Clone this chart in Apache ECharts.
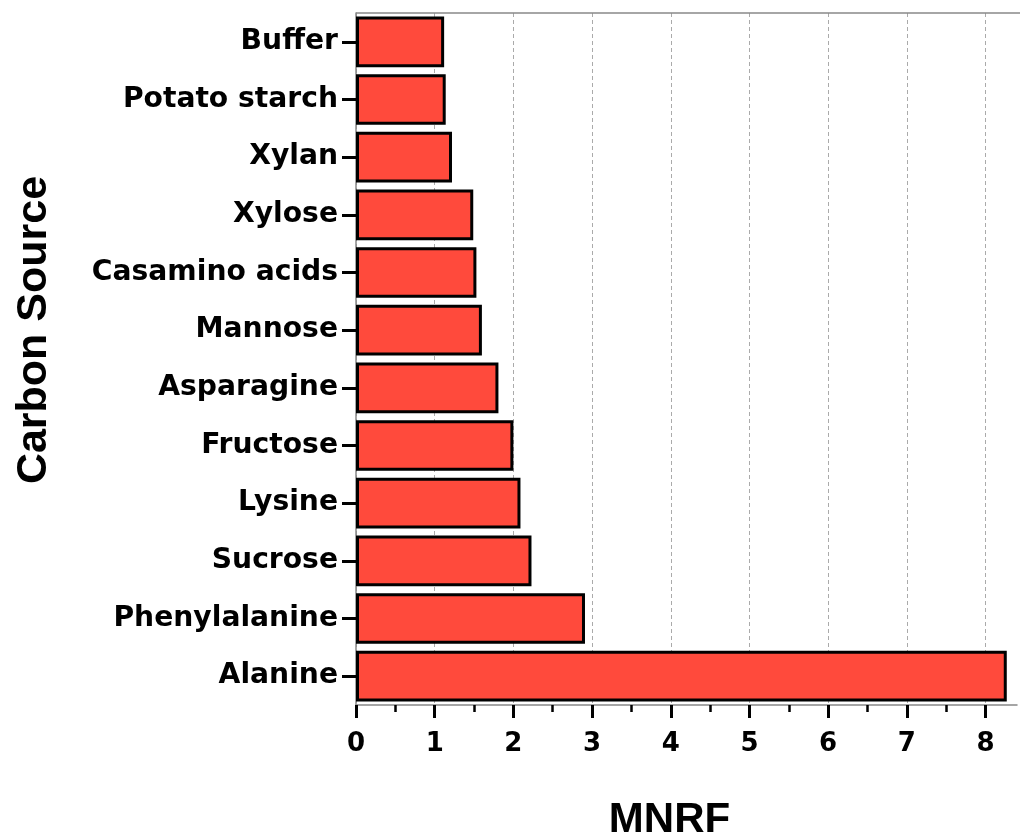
<!DOCTYPE html>
<html>
<head>
<meta charset="utf-8">
<script src="https://cdn.jsdelivr.net/npm/echarts@6/dist/echarts.min.js"></script>
<style>html,body{margin:0;padding:0;background:#fff}#c{width:1020px;height:835px}</style>
</head>
<body>
<div id="c"></div>
<script>
const categories = ["Buffer","Potato starch","Xylan","Xylose","Casamino acids","Mannose","Asparagine","Fructose","Lysine","Sucrose","Phenylalanine","Alanine"];
const values = [1.12,1.14,1.22,1.49,1.53,1.60,1.81,2.00,2.09,2.23,2.91,8.27];
const xTicks = [0,1,2,3,4,5,6,7,8];

const chart = echarts.init(document.getElementById('c'), null, {renderer:'canvas'});
chart.setOption({
  animation:false,
  backgroundColor:'#fff',
  grid:{left:356,top:13,width:661,height:692,containLabel:false,outerBoundsMode:'none'},
  xAxis:{
    type:'value', min:0, max:8.4, interval:1,
    name:'MNRF', nameLocation:'middle', nameGap:94,
    nameTextStyle:{fontFamily:'Liberation Sans',fontWeight:'bold',fontSize:42,color:'#000',padding:[0,34,0,0]},
    axisLine:{show:true,lineStyle:{color:'#888',width:1.5}},
    axisTick:{show:true,length:13,lineStyle:{color:'#000',width:3},customValues:xTicks},
    minorTick:{show:true,splitNumber:2,length:7,lineStyle:{color:'#000',width:2.5}},
    axisLabel:{fontFamily:'DejaVu Sans',fontWeight:'bold',fontSize:26,color:'#000',margin:26,customValues:xTicks,
      formatter:v=>String(v)},
    splitLine:{show:true,lineStyle:{color:'#aaa',type:[4,3],width:1}}
  },
  yAxis:{
    type:'category', data:categories, inverse:true,
    name:'Carbon Source', nameLocation:'middle', nameGap:300, nameRotate:90,
    nameTextStyle:{fontFamily:'Liberation Sans',fontWeight:'bold',fontSize:43,color:'#000',padding:[0,0,0,58]},
    axisLine:{show:true,lineStyle:{color:'#888',width:1.5}},
    axisTick:{show:true,alignWithLabel:true,length:14,lineStyle:{color:'#000',width:3}},
    axisLabel:{fontFamily:'DejaVu Sans',fontWeight:'bold',fontSize:28.2,color:'#000',margin:18},
    splitLine:{show:false}
  },
  series:[{
    type:'bar', data:values, barCategoryGap:'12%',
    itemStyle:{color:'#FF4A3C',borderColor:'#000',borderWidth:3}
  }]
});
chart.setOption({graphic:[{type:'line',shape:{x1:356,y1:13,x2:1020,y2:13},style:{stroke:'#888',lineWidth:1.5},silent:true}]});
</script>
</body>
</html>
